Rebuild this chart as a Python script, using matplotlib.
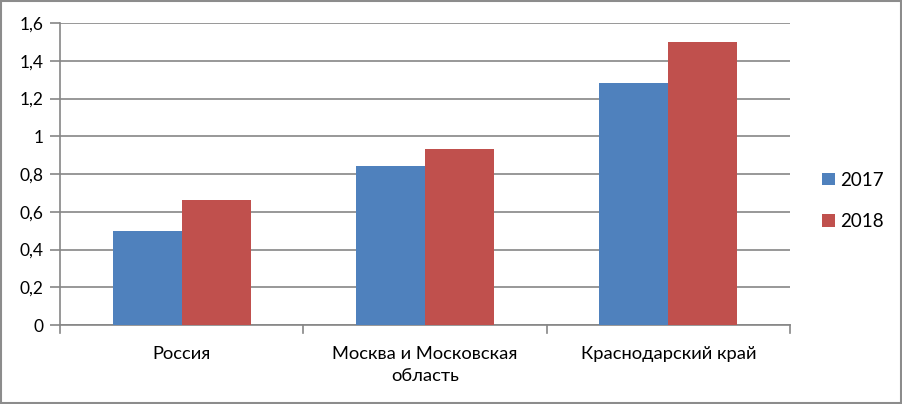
import numpy as np
import matplotlib
matplotlib.use("Agg")
from matplotlib import pyplot as plt
from matplotlib.patches import Rectangle

categories = ["Россия", "Москва и Московская\nобласть", "Краснодарский край"]
series_names = ["2017", "2018"]
values_2017 = [0.5, 0.84, 1.28]
values_2018 = [0.66, 0.93, 1.5]
y_ticks = [0, 0.2, 0.4, 0.6, 0.8, 1.0, 1.2, 1.4, 1.6]
y_tick_labels = ["0", "0,2", "0,4", "0,6", "0,8", "1", "1,2", "1,4", "1,6"]

colors = ["#4F81BD", "#C0504D"]
grid_color = "#868686"

plt.rcParams["font.family"] = ["Lato", "DejaVu Sans"]
plt.rcParams["font.size"] = 12.5

fig = plt.figure(figsize=(9.03, 4.04), dpi=100)
W, H = 903, 404
ax = fig.add_axes([60 / W, 1 - 325 / H, 730 / W, 302 / H])

x = np.arange(len(categories))
width = 0.284
ax.bar(x - width / 2, values_2017, width, color=colors[0], label=series_names[0], zorder=3)
ax.bar(x + width / 2, values_2018, width, color=colors[1], label=series_names[1], zorder=3)

ax.set_xlim(-0.5, len(categories) - 0.5)
ax.set_ylim(0, 1.6)
ax.set_yticks(y_ticks)
ax.set_yticklabels(y_tick_labels)
ax.yaxis.grid(True, color=grid_color, linewidth=1.2, zorder=0)
ax.set_axisbelow(True)

# category labels between boundary ticks
ax.set_xticks(x)
ax.set_xticklabels(categories, linespacing=1.45, va="top", fontsize=13.2)
ax.tick_params(axis="x", length=0, pad=15)
for b in np.arange(-0.5, len(categories), 1.0):
    ax.plot([b, b], [0, -0.04], color=grid_color, linewidth=1.2,
            clip_on=False, transform=ax.transData)

ax.tick_params(axis="y", length=7, color=grid_color, width=1.2, pad=5)
for side in ["top", "right"]:
    ax.spines[side].set_visible(False)
for side in ["left", "bottom"]:
    ax.spines[side].set_color(grid_color)
    ax.spines[side].set_linewidth(1.2)

fig.legend(loc="center left", bbox_to_anchor=(813 / W, 1 - 201 / H),
           frameon=False, handlelength=0.65, handleheight=0.65,
           handletextpad=0.3, labelspacing=1.3, borderpad=0, fontsize=13.5)

# outer border of the chart
fig.patches.append(Rectangle((0.001, 0.002), 0.997, 0.995, transform=fig.transFigure,
                             fill=False, edgecolor="#8c8c8c", linewidth=1.5))

plt.savefig("out.png", dpi=100)
plt.close()
